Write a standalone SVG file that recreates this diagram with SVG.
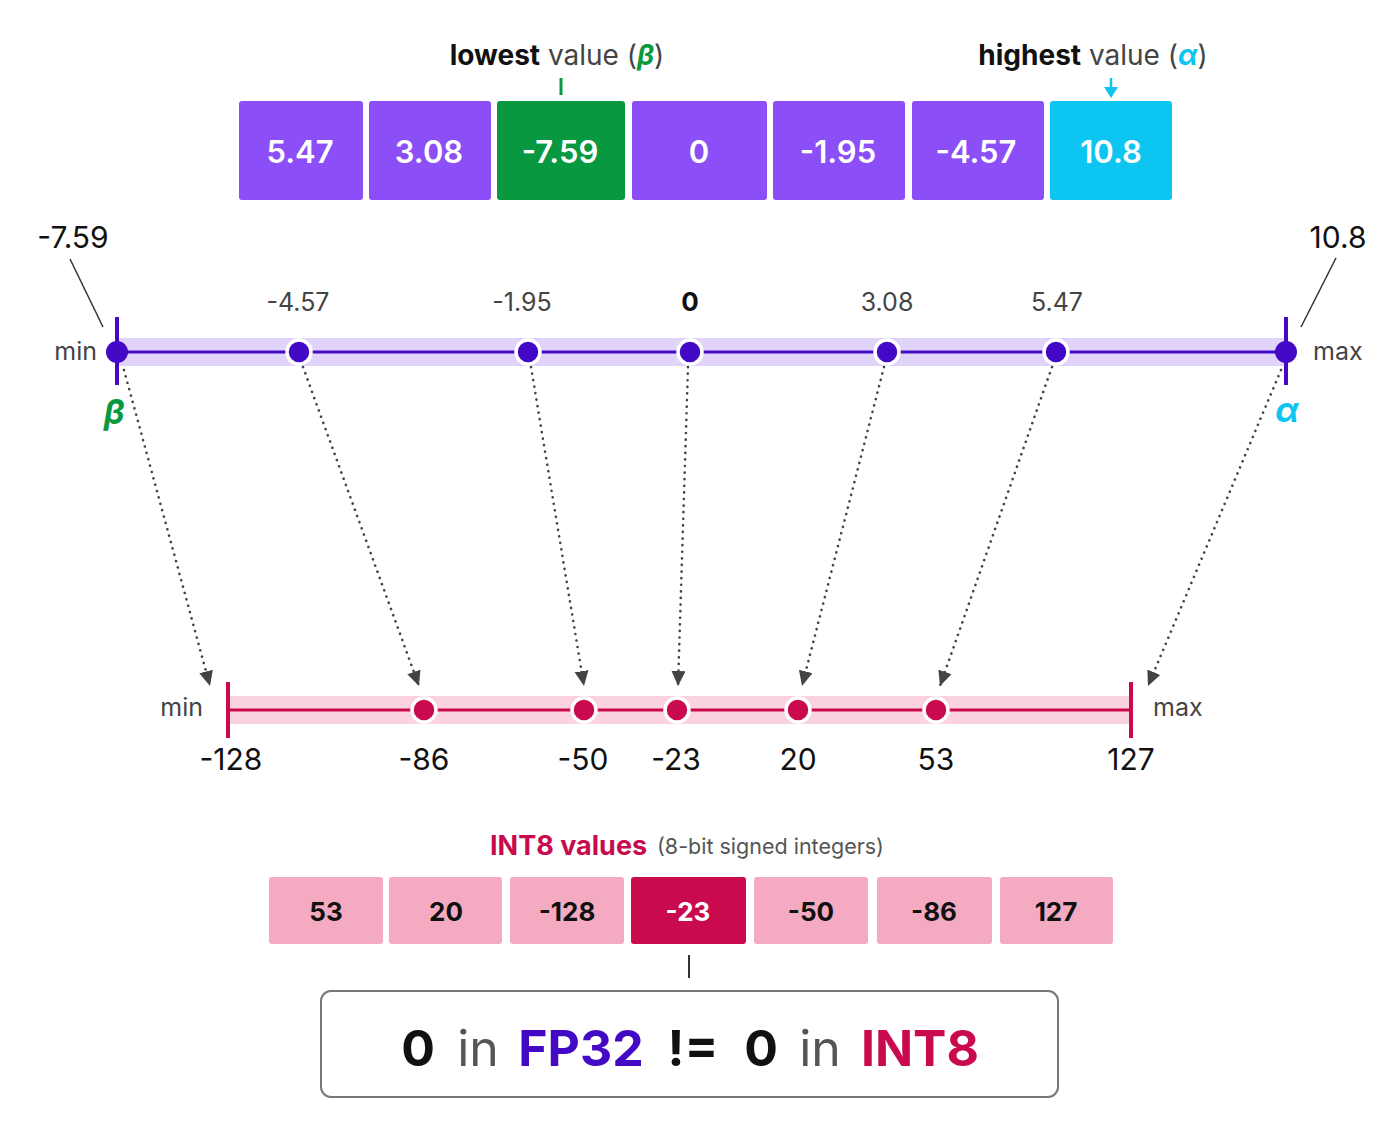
<svg xmlns="http://www.w3.org/2000/svg" width="1397" height="1126" viewBox="0 0 1397 1126">
<defs>
<style>
text{font-family:Inter,"Noto Sans","Liberation Sans",sans-serif;}
.bx{fill:#8c4ef6;}
.bt{fill:#fff;font-size:31px;font-weight:600;text-anchor:middle;}
.ul{font-size:25px;fill:#444;text-anchor:middle;}
.ll{font-size:30px;fill:#111;text-anchor:middle;}
.pk{fill:#f4abc1;}
.pt{fill:#111;font-size:26px;font-weight:700;text-anchor:middle;}
.big{font-size:50px;text-anchor:middle;}
.dot{fill:none;stroke:#444;stroke-width:2.6;stroke-linecap:round;stroke-dasharray:0.1 6.5;}
.up{fill:#4409c4;stroke:#fff;stroke-width:3.5;}
.lo{fill:#c90a4e;stroke:#fff;stroke-width:3.5;}
</style>
<marker id="ah" markerUnits="userSpaceOnUse" markerWidth="18" markerHeight="16" refX="15" refY="7" orient="auto">
<path d="M0,0 L15,7 L0,14 z" fill="#444"/>
</marker>
</defs>
<rect width="1397" height="1126" fill="#fff"/>

<g id="header-top">
<text x="557" y="65" font-size="28" text-anchor="middle"><tspan font-weight="700" fill="#111">lowest</tspan><tspan fill="#444"> value (</tspan><tspan fill="#08983f" font-style="italic" font-weight="700">β</tspan><tspan fill="#444">)</tspan></text>
<line x1="561" y1="78" x2="561" y2="95" stroke="#08983f" stroke-width="3"/>
<text x="1093" y="65" font-size="28" text-anchor="middle"><tspan font-weight="700" fill="#111">highest</tspan><tspan fill="#444"> value (</tspan><tspan fill="#0cc5f0" font-style="italic" font-weight="700">α</tspan><tspan fill="#444">)</tspan></text>
<line x1="1111" y1="78" x2="1111" y2="89" stroke="#0cc5f0" stroke-width="2.5"/>
<path d="M1104,87 L1118,87 L1111,98 z" fill="#0cc5f0"/>
</g>

<g id="fp32-values">
<rect class="bx" x="239" y="101" width="124" height="99" rx="3"/>
<text class="bt" x="300" y="163">5.47</text>
<rect class="bx" x="369" y="101" width="122" height="99" rx="3"/>
<text class="bt" x="429" y="163">3.08</text>
<rect x="497" y="101" width="128" height="99" rx="3" fill="#08983f"/>
<text class="bt" x="560" y="163">-7.59</text>
<rect class="bx" x="632" y="101" width="135" height="99" rx="3"/>
<text class="bt" x="699" y="163">0</text>
<rect class="bx" x="773" y="101" width="132" height="99" rx="3"/>
<text class="bt" x="838" y="163">-1.95</text>
<rect class="bx" x="912" y="101" width="132" height="99" rx="3"/>
<text class="bt" x="976" y="163">-4.57</text>
<rect x="1050" y="101" width="122" height="99" rx="3" fill="#0cc5f0"/>
<text class="bt" x="1111" y="163">10.8</text>
</g>

<g id="fp32-axis">
<rect x="117" y="338" width="1169" height="28" fill="#e2d3fb"/>
<line x1="117" y1="352" x2="1286" y2="352" stroke="#4409c4" stroke-width="3"/>
<line x1="117" y1="317" x2="117" y2="385" stroke="#4409c4" stroke-width="4"/>
<line x1="1286" y1="317" x2="1286" y2="385" stroke="#4409c4" stroke-width="4"/>
<circle cx="117" cy="352" r="11" fill="#4409c4"/>
<circle cx="1286" cy="352" r="11" fill="#4409c4"/>
<circle class="up" cx="299" cy="352" r="12"/>
<circle class="up" cx="528" cy="352" r="12"/>
<circle class="up" cx="690" cy="352" r="12"/>
<circle class="up" cx="887" cy="352" r="12"/>
<circle class="up" cx="1056" cy="352" r="12"/>
<text class="ul" x="298" y="311">-4.57</text>
<text class="ul" x="522" y="311">-1.95</text>
<text x="690" y="311" font-size="26" font-weight="700" fill="#111" text-anchor="middle">0</text>
<text class="ul" x="887" y="311">3.08</text>
<text class="ul" x="1057" y="311">5.47</text>
<text x="97" y="360" font-size="25" fill="#444" text-anchor="end">min</text>
<text x="1313" y="360" font-size="25" fill="#444">max</text>
<text x="73" y="248" font-size="30" fill="#111" text-anchor="middle">-7.59</text>
<text x="1338" y="248" font-size="30" fill="#111" text-anchor="middle">10.8</text>
<line x1="70" y1="259" x2="103" y2="327" stroke="#333" stroke-width="1.5"/>
<line x1="1336" y1="258" x2="1301" y2="327" stroke="#333" stroke-width="1.5"/>
<text x="114" y="424" font-size="34" font-weight="700" font-style="italic" fill="#08983f" text-anchor="middle">β</text>
<text x="1287" y="422" font-size="34" font-weight="700" font-style="italic" fill="#0cc5f0" text-anchor="middle">α</text>
</g>

<g id="connectors">
<line class="dot" x1="124" y1="370" x2="210" y2="686" marker-end="url(#ah)"/>
<line class="dot" x1="303" y1="367" x2="419" y2="686" marker-end="url(#ah)"/>
<line class="dot" x1="531" y1="367" x2="584" y2="686" marker-end="url(#ah)"/>
<line class="dot" x1="688" y1="367" x2="678" y2="686" marker-end="url(#ah)"/>
<line class="dot" x1="884" y1="367" x2="802" y2="686" marker-end="url(#ah)"/>
<line class="dot" x1="1052" y1="367" x2="940" y2="686" marker-end="url(#ah)"/>
<line class="dot" x1="1281" y1="370" x2="1148" y2="686" marker-end="url(#ah)"/>
</g>

<g id="int8-axis">
<rect x="228" y="696" width="903" height="28" fill="#fbd3df"/>
<line x1="228" y1="710" x2="1131" y2="710" stroke="#c90a4e" stroke-width="3"/>
<line x1="228" y1="682" x2="228" y2="738" stroke="#c90a4e" stroke-width="4"/>
<line x1="1131" y1="682" x2="1131" y2="738" stroke="#c90a4e" stroke-width="4"/>
<circle class="lo" cx="424" cy="710" r="12"/>
<circle class="lo" cx="584" cy="710" r="12"/>
<circle class="lo" cx="677" cy="710" r="12"/>
<circle class="lo" cx="798" cy="710" r="12"/>
<circle class="lo" cx="936" cy="710" r="12"/>
<text x="203" y="716" font-size="25" fill="#444" text-anchor="end">min</text>
<text x="1153" y="716" font-size="25" fill="#444">max</text>
<text class="ll" x="231" y="770">-128</text>
<text class="ll" x="424" y="770">-86</text>
<text class="ll" x="583" y="770">-50</text>
<text class="ll" x="676" y="770">-23</text>
<text class="ll" x="798" y="770">20</text>
<text class="ll" x="936" y="770">53</text>
<text class="ll" x="1131" y="770">127</text>
</g>

<g id="int8-values">
<text x="490" y="855" font-size="27" font-weight="700" fill="#c90a4e">INT8 values</text>
<text x="657" y="854" font-size="21.5" fill="#555">(8-bit signed integers)</text>
<rect class="pk" x="269" y="877" width="114" height="67" rx="3"/>
<text class="pt" x="326" y="921">53</text>
<rect class="pk" x="389" y="877" width="113" height="67" rx="3"/>
<text class="pt" x="446" y="921">20</text>
<rect class="pk" x="510" y="877" width="114" height="67" rx="3"/>
<text class="pt" x="567" y="921">-128</text>
<rect x="631" y="877" width="115" height="67" rx="3" fill="#c90a4e"/>
<text class="pt" x="688" y="921" style="fill:#fff">-23</text>
<rect class="pk" x="754" y="877" width="114" height="67" rx="3"/>
<text class="pt" x="811" y="921">-50</text>
<rect class="pk" x="877" y="877" width="115" height="67" rx="3"/>
<text class="pt" x="934" y="921">-86</text>
<rect class="pk" x="1000" y="877" width="113" height="67" rx="3"/>
<text class="pt" x="1056" y="921">127</text>
<line x1="689" y1="955" x2="689" y2="978" stroke="#333" stroke-width="2"/>
</g>

<g id="conclusion">
<rect x="321" y="991" width="737" height="106" rx="10" fill="#fff" stroke="#777" stroke-width="2"/>
<text class="big" x="418" y="1066" font-weight="700" fill="#111">0</text>
<text class="big" x="478" y="1066" fill="#555">in</text>
<text class="big" x="581" y="1066" font-weight="700" fill="#4409c4">FP32</text>
<text class="big" x="693" y="1066" font-weight="700" fill="#111">!=</text>
<text class="big" x="761" y="1066" font-weight="700" fill="#111">0</text>
<text class="big" x="820" y="1066" fill="#555">in</text>
<text class="big" x="920" y="1066" font-weight="700" fill="#c90a4e">INT8</text>
</g>
</svg>
